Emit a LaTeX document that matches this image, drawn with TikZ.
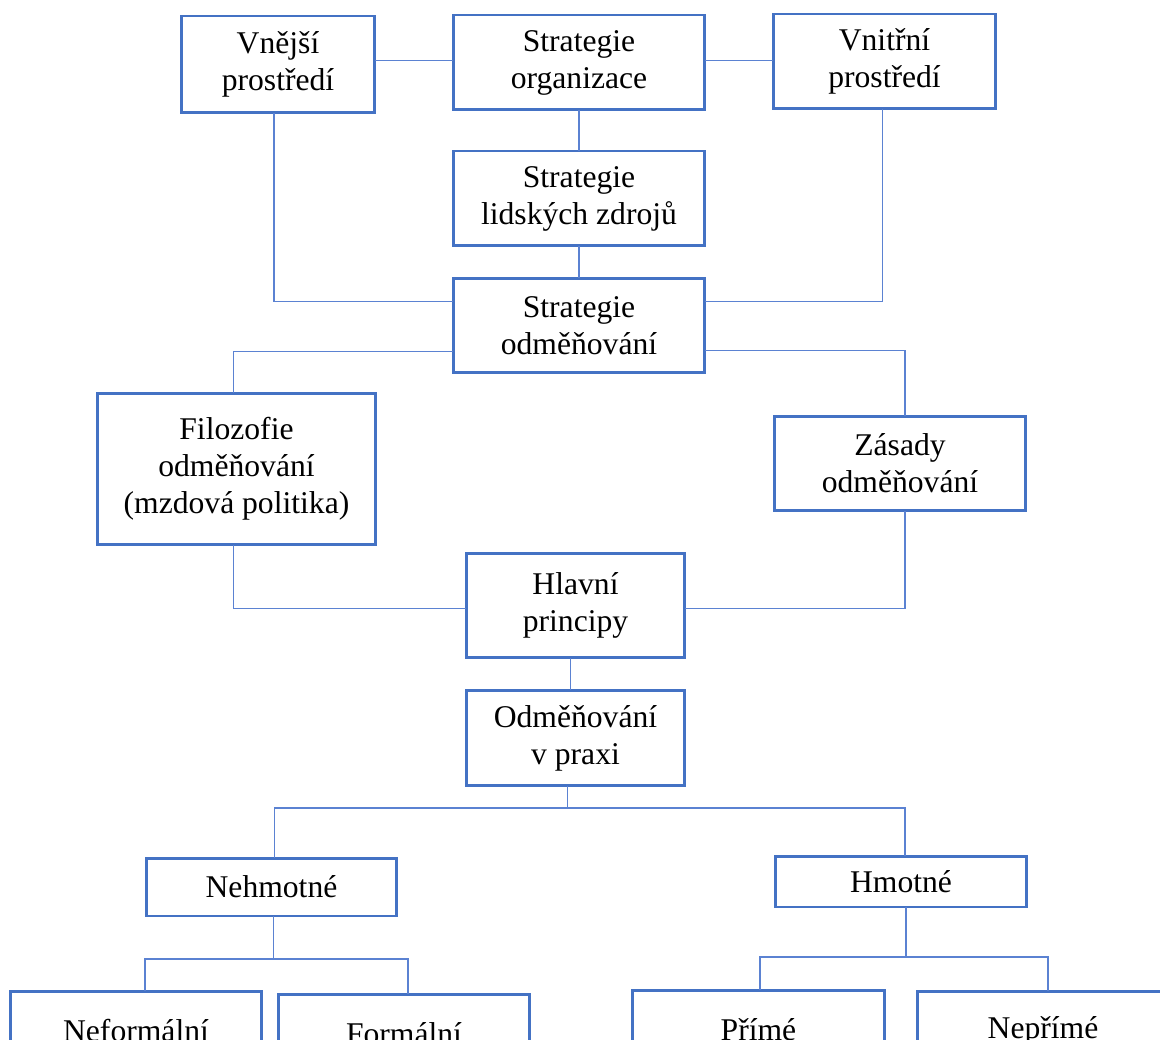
\documentclass[tikz,border=0pt]{standalone}
\usepackage{fontspec}
\setmainfont{Liberation Serif}
\usetikzlibrary{calc}
\definecolor{ramec}{HTML}{4472C4}
\definecolor{spojka}{HTML}{5B82D2}
\begin{document}
\begin{tikzpicture}[x=0.02cm,y=-0.02cm,
    box/.style={draw=ramec,line width=1.7pt,align=center,inner sep=0pt,outer sep=0pt,
      font=\fontsize{18}{21}\selectfont,minimum width=5.04cm,minimum height=1.9cm},
    spoj/.style={draw=spojka,line width=0.85pt}]
  \useasboundingbox (0,0) rectangle (1160,1040);
  \clip (0,0) rectangle (1160,1040);
  % horni rada
  \node[box,minimum width=3.88cm,minimum height=1.94cm] (vnejsi) at (278,64.5) {Vnější\\prostředí};
  \node[box] (strat) at (579,62.5) {Strategie\\organizace};
  \node[box,minimum width=4.46cm] (vnitrni) at (884.5,61.5) {Vnitřní\\prostředí};
  \node[box] (slz) at (579,198.5) {Strategie\\lidských zdrojů};
  \node[box] (odm) at (579,325.5) {Strategie\\odměňování};
  % filozofie a zasady
  \node[box,minimum width=5.58cm,minimum height=3.04cm] (filo) at (236.5,469) {Filozofie\\odměňování\\(mzdová politika)};
  \node[box] (zasady) at (900,463.5) {Zásady\\odměňování};
  \node[box,minimum width=4.38cm,minimum height=2.1cm] (hlavni) at (575.5,605.5) {Hlavní\\principy};
  \node[box,minimum width=4.38cm,minimum height=1.92cm] (praxe) at (575.5,738) {Odměňování\\v praxi};
  % druhy odmen
  \node[box,minimum width=5.02cm,minimum height=1.16cm] (nehm) at (271.5,887) {Nehmotné};
  \node[box,minimum height=1.02cm] (hmot) at (901,881.5) {Hmotné};
  \node[box,minimum height=1.6cm] (neform) at (136,1031) {Neformální};
  \node[box,minimum height=1.6cm] (form) at (404,1034) {Formální};
  \node[box,minimum height=1.6cm] (prime) at (758.5,1030) {Přímé};
  \node[box,minimum height=1.6cm] (neprime) at (1043,1031) {Nepřímé};
  % spojnice
  \draw[spoj] ($(vnejsi.east |- strat.west)+(0,-2)$) -- ($(strat.west)+(0,-2)$);
  \draw[spoj] ($(strat.east)+(0,-2)$) -- ($(strat.east -| vnitrni.west)+(0,-2)$);
  \draw[spoj] (strat.south) -- (slz.north);
  \draw[spoj] (slz.south) -- (odm.north);
  \draw[spoj] ($(vnejsi.south)+(-4,0)$) |- ($(odm.west)+(0,-24)$);
  \draw[spoj] ($(vnitrni.south)+(-2,0)$) |- ($(odm.east)+(0,-24)$);
  \draw[spoj] ($(odm.west)+(0,26)$) -| ($(filo.north)+(-3,0)$);
  \draw[spoj] ($(odm.east)+(0,25)$) -| ($(zasady.north)+(5,0)$);
  \draw[spoj] ($(filo.south)+(-3,0)$) |- ($(hlavni.west)+(0,3)$);
  \draw[spoj] ($(zasady.south)+(5,0)$) |- ($(hlavni.east)+(0,3)$);
  \draw[spoj] ($(hlavni.south)+(-5,0)$) -- ($(praxe.north)+(-5,0)$);
  \draw[spoj] ($(praxe.south)+(-8,0)$) -- ++(0,22) coordinate (r1);
  \draw[spoj] ($(nehm.north)+(3,0)$) |- (r1) -| ($(hmot.north)+(4,0)$);
  \draw[spoj] ($(nehm.south)+(2,0)$) -- ++(0,43) coordinate (r2);
  \draw[spoj] ($(neform.north)+(9,0)$) |- (r2) -| ($(form.north)+(4,0)$);
  \draw[spoj] ($(hmot.south)+(5,0)$) -- ++(0,50) coordinate (r3);
  \draw[spoj] ($(prime.north)+(1.5,0)$) |- (r3) -| ($(neprime.north)+(5,0)$);
\end{tikzpicture}
\end{document}
